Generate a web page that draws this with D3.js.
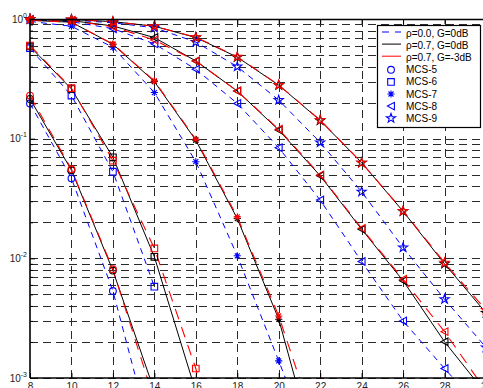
<!DOCTYPE html>
<html><head><meta charset="utf-8">
<script src="https://cdn.jsdelivr.net/npm/d3@7"></script>
<style>
body{margin:0;background:#fff}
svg{display:block}
text{font-family:"Liberation Sans",Arial,Helvetica,sans-serif}
</style>
</head><body>
<svg id="chart" width="483" height="388"></svg>
<script>
// ---------- data ----------
const snr = [8, 10, 12, 14, 16, 18, 20, 22, 24, 26, 28, 30];
const xTicks = [8, 10, 12, 14, 16, 18, 20, 22, 24, 26, 28, 30];
const yMajorTicks = [1e-3, 1e-2, 1e-1, 1];
const yTickExponents = ["-3", "-2", "-1", "0"];
const mcsNames = ["MCS-5", "MCS-6", "MCS-7", "MCS-8", "MCS-9"];
const markerTypes = ["circle", "square", "asterisk", "triangle", "star"];
const schemeLabels = ["\u03c1=0.0, G=0dB", "\u03c1=0.7, G=0dB", "\u03c1=0.7, G=-3dB"];

// rho = 0.0, G = 0 dB (blue dashed)
const rho00_mcs5 = [0.197, 0.0466, 0.00533, 0.00026];
const rho00_mcs6 = [0.57, 0.229, 0.053, 0.0058];
const rho00_mcs7 = [0.955, 0.87, 0.58, 0.243, 0.0642, 0.0105, 0.00139, 0.00018];
const rho00_mcs8 = [0.985, 0.95, 0.83, 0.62, 0.38, 0.197, 0.084, 0.0307, 0.0094, 0.003, 0.0012, 0.0005];
const rho00_mcs9 = [0.995, 0.98, 0.93, 0.845, 0.642, 0.40, 0.21, 0.093, 0.036, 0.0123, 0.00455, 0.0018];

// rho = 0.7, G = 0 dB (black solid)
const rho07g0_mcs5 = [0.215, 0.0545, 0.0079, 0.00078];
const rho07g0_mcs6 = [0.59, 0.26, 0.0699, 0.0103, 0.00077];
const rho07g0_mcs7 = [0.975, 0.94, 0.615, 0.30, 0.097, 0.0215, 0.0031, 0.00017];
const rho07g0_mcs8 = [0.99, 0.97, 0.875, 0.70, 0.446, 0.25, 0.118, 0.049, 0.0175, 0.0065, 0.00201, 0.00074];
const rho07g0_mcs9 = [1.0, 0.99, 0.95, 0.87, 0.70, 0.48, 0.28, 0.142, 0.063, 0.0247, 0.0090, 0.0035];

// rho = 0.7, G = -3 dB (red)
const rho07g3_mcs5 = [0.229, 0.0555, 0.0081, 0.00065];
const rho07g3_mcs6 = [0.60, 0.264, 0.0655, 0.0121, 0.0012, 0.00004];
const rho07g3_mcs7 = [0.975, 0.94, 0.618, 0.304, 0.0988, 0.0222, 0.0033, 0.0003];
const rho07g3_mcs8 = [0.99, 0.97, 0.862, 0.667, 0.446, 0.25, 0.12, 0.0497, 0.0178, 0.00668, 0.00244, 0.00078];
const rho07g3_mcs9 = [0.995, 0.99, 0.95, 0.87, 0.705, 0.484, 0.281, 0.143, 0.063, 0.0249, 0.0092, 0.0037];

const schemes = [
  {label: schemeLabels[0], color: "#0000ff", dash: "6,5", width: 1, series: [rho00_mcs5, rho00_mcs6, rho00_mcs7, rho00_mcs8, rho00_mcs9]},
  {label: schemeLabels[1], color: "#000000", dash: null, width: 1, series: [rho07g0_mcs5, rho07g0_mcs6, rho07g0_mcs7, rho07g0_mcs8, rho07g0_mcs9]},
  {label: schemeLabels[2], color: "#ff0000", dash: "11,8", width: 1.1, series: [rho07g3_mcs5, rho07g3_mcs6, rho07g3_mcs7, rho07g3_mcs8, rho07g3_mcs9]}
];

// ---------- layout ----------
const svg = d3.select("#chart");
const L = 30, R = 486, T = 19, B = 378;
const x = d3.scaleLinear().domain([8, 30]).range([L, R]);
const y = d3.scaleLog().domain([1e-3, 1]).range([B, T]);

svg.append("rect").attr("width", 483).attr("height", 388).attr("fill", "#fff");
svg.append("defs").append("clipPath").attr("id", "clip")
  .append("rect").attr("x", L).attr("y", T).attr("width", R - L).attr("height", B - T);

// grid
const gridColor = "#2a2a2a";
const grid = svg.append("g");
grid.selectAll("line.h").data(y.ticks()).join("line")
  .attr("x1", L).attr("x2", R).attr("y1", d => Math.round(y(d)) + 0.5).attr("y2", d => Math.round(y(d)) + 0.5)
  .attr("stroke", gridColor).attr("stroke-width", 1).attr("stroke-dasharray", "8,5");
grid.selectAll("line.v").data(xTicks.slice(1)).join("line")
  .attr("x1", d => Math.round(x(d)) + 0.5).attr("x2", d => Math.round(x(d)) + 0.5).attr("y1", T).attr("y2", B)
  .attr("stroke", gridColor).attr("stroke-width", 1).attr("stroke-dasharray", "8,5");

// marker shapes
function markerPath(type) {
  switch (type) {
    case "circle": return d3.symbol(d3.symbolCircle, 36)();
    case "square": return "M-3.3,-3.3H3.3V3.3H-3.3Z";
    case "triangle": return "M-3.6,0L3.4,-3.8L3.4,3.8Z";
    case "asterisk": return "M0,-3.6V3.6M-3.6,0H3.6M-2.5,-2.5L2.5,2.5M-2.5,2.5L2.5,-2.5";
    case "star": {
      const pts = [];
      for (let i = 0; i < 10; i++) {
        const r = i % 2 === 0 ? 4.8 : 1.9;
        const a = -Math.PI / 2 + i * Math.PI / 5;
        pts.push([r * Math.cos(a), r * Math.sin(a)]);
      }
      return "M" + pts.map(p => p[0].toFixed(2) + "," + p[1].toFixed(2)).join("L") + "Z";
    }
  }
}

// lines
const line = d3.line().defined(d => d.v != null && d.v > 0).x(d => x(d.x)).y(d => y(d.v));
const plot = svg.append("g").attr("clip-path", "url(#clip)");
schemes.forEach(s => {
  s.series.forEach((vals, i) => {
    const pts = vals.map((v, j) => ({x: snr[j], v}));
    plot.append("path").datum(pts)
      .attr("d", line).attr("fill", "none")
      .attr("stroke", s.color).attr("stroke-width", s.width)
      .attr("stroke-dasharray", s.dash);
  });
});

// markers
schemes.forEach(s => {
  s.series.forEach((vals, i) => {
    const pts = vals.map((v, j) => ({x: snr[j], v}))
      .filter(d => d.v != null && d.v >= 1e-3 && d.v <= 1);
    svg.append("g").selectAll("path").data(pts).join("path")
      .attr("transform", d => `translate(${x(d.x)},${y(d.v)})`)
      .attr("d", markerPath(markerTypes[i]))
      .attr("fill", "none").attr("stroke", s.color).attr("stroke-width", 1.1);
  });
});

// axes
const axisColor = "#000";
const xAxis = svg.append("g").attr("transform", `translate(0,${B})`)
  .call(d3.axisBottom(x).tickValues(xTicks).tickSize(-5).tickPadding(5).tickFormat(d3.format("d")));
const xAxisTop = svg.append("g").attr("transform", `translate(0,${T})`)
  .call(d3.axisTop(x).tickValues(xTicks).tickSize(-5).tickFormat(""));
const yAxis = svg.append("g").attr("transform", `translate(${L},0)`)
  .call(d3.axisLeft(y).tickValues(y.ticks()).tickSize(0).tickFormat(""));
[xAxis, xAxisTop, yAxis].forEach(g => {
  g.select(".domain").attr("stroke", axisColor).attr("stroke-width", 1.6);
  g.selectAll(".tick line").attr("stroke", axisColor);
  g.selectAll("text").attr("font-size", 10).attr("fill", "#222")
    .attr("font-family", '"Liberation Sans",Arial,sans-serif');
});
xAxisTop.select(".domain").attr("d", `M${L},0.5H${R}`);
xAxis.select(".domain").attr("d", `M${L},0H${R}`);
yAxis.select(".domain").attr("d", `M0,${T}V${B}`);
yAxis.selectAll(".tick line")
  .attr("x2", d => yMajorTicks.some(m => Math.abs(Math.log10(m) - Math.log10(d)) < 1e-9) ? 5 : 3);

// y labels 10^k
const yLab = svg.append("g");
yMajorTicks.forEach((v, i) => {
  const t = yLab.append("text").attr("x", 27).attr("y", y(v) + 3.8)
    .attr("text-anchor", "end").attr("font-size", 10).attr("fill", "#222");
  t.append("tspan").text("10");
  t.append("tspan").attr("dy", -5).attr("font-size", 7).text(yTickExponents[i]);
});

// legend
const lg = svg.append("g");
const lx0 = 377, ly0 = 25, lw = 103, lh = 102;
lg.append("rect").attr("x", lx0 + 0.5).attr("y", ly0 + 0.5).attr("width", lw).attr("height", lh)
  .attr("fill", "#fff").attr("stroke", "#000").attr("stroke-width", 1.2);
const rowY = i => 33.5 + i * 12.1;
schemes.forEach((s, i) => {
  lg.append("line").attr("x1", 382).attr("x2", 401).attr("y1", rowY(i) - 1.5).attr("y2", rowY(i) - 1.5)
    .attr("stroke", s.color).attr("stroke-width", 1)
    .attr("stroke-dasharray", i === 0 ? "7,6" : null);
  lg.append("text").attr("x", 406).attr("y", rowY(i) + 3.5).attr("font-size", 10).attr("fill", "#000").text(s.label);
});
mcsNames.forEach((n, i) => {
  const yy = rowY(i + 3);
  lg.append("path").attr("transform", `translate(391,${yy})`).attr("d", markerPath(markerTypes[i]))
    .attr("fill", "none").attr("stroke", "#0000ff").attr("stroke-width", 1.1);
  lg.append("text").attr("x", 406).attr("y", yy + 3.5).attr("font-size", 10).attr("fill", "#000").text(n);
});
</script>
</body></html>
